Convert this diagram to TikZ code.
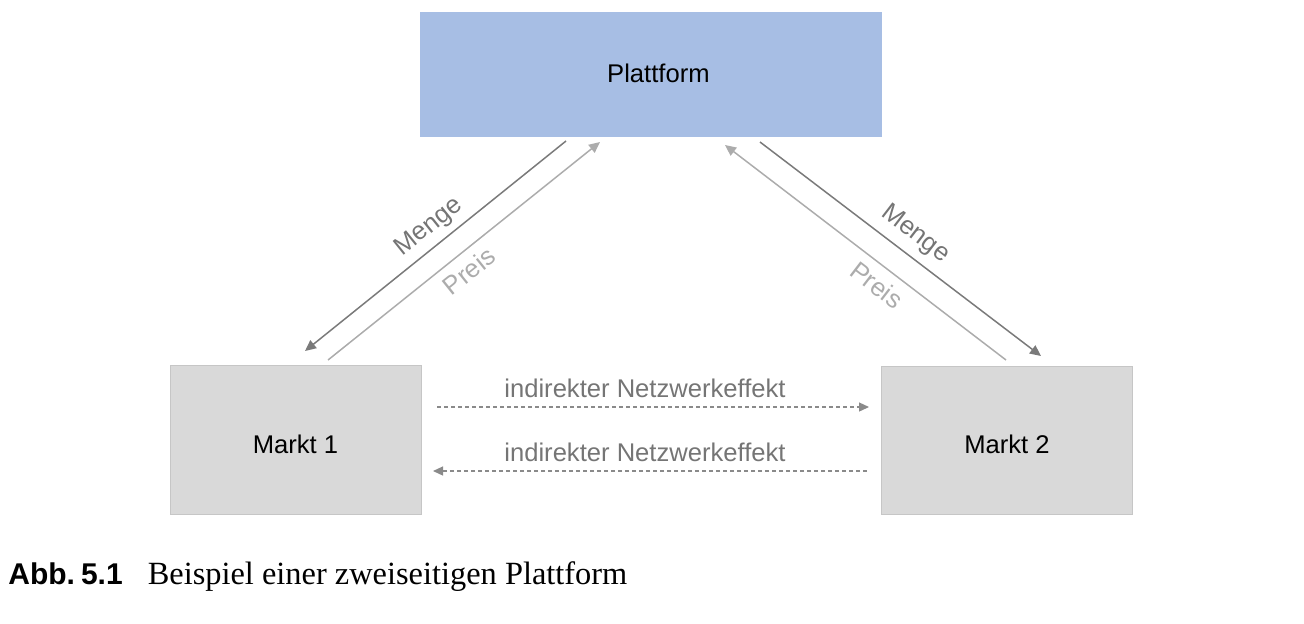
\documentclass[tikz,border=0pt]{standalone}
\usepackage{fontspec}
\setmainfont{Liberation Serif}
\setsansfont{Liberation Sans}
\usetikzlibrary{arrows.meta,calc}
\definecolor{platblue}{HTML}{A7BEE4}
\definecolor{boxgray}{HTML}{D9D9D9}
\definecolor{boxline}{HTML}{C6C6C6}
\definecolor{darkarrow}{HTML}{7A7A7A}
\definecolor{lightarrow}{HTML}{ACACAC}
\definecolor{dashgray}{HTML}{8A8A8A}
\definecolor{labgray}{HTML}{757575}
\tikzset{
  boxnode/.style={inner sep=0pt, font=\sffamily\fontsize{12.8}{14}\selectfont},
  mengearrow/.style={draw=darkarrow, line width=0.75pt, -{Triangle[length=5.5pt,width=5pt]}},
  preisarrow/.style={draw=lightarrow, line width=0.75pt, -{Triangle[length=5.5pt,width=5pt]}},
  effarrow/.style={draw=dashgray, line width=0.6pt, dash pattern=on 2pt off 1.5pt, -{Triangle[length=5pt,width=4.5pt]}},
  mengelab/.style={text=labgray, font=\sffamily\fontsize{12.8}{14}\selectfont, inner sep=0pt},
  preislab/.style={text=lightarrow, font=\sffamily\fontsize{12.8}{14}\selectfont, inner sep=0pt},
  efflab/.style={text=labgray, font=\sffamily\fontsize{12.8}{14}\selectfont, inner sep=0pt},
}
\begin{document}
\begin{tikzpicture}[x=0.5pt,y=-0.5pt]
\useasboundingbox (0,0) rectangle (1304,623);
% boxes
\node[boxnode, fill=platblue, minimum width=231pt, minimum height=62.5pt, anchor=north west] (P) at (420,12) {\hspace*{7pt}\raisebox{1pt}[\height][\depth]{Plattform}};
\node[boxnode, fill=boxgray, draw=boxline, line width=0.5pt, minimum width=125.5pt, minimum height=74.5pt, anchor=north west] (M1) at (169.5,365) {\raisebox{-2pt}[\height][\depth]{Markt 1}};
\node[boxnode, fill=boxgray, draw=boxline, line width=0.5pt, minimum width=125.5pt, minimum height=74pt, anchor=north west] (M2) at (881,366) {\raisebox{-2pt}[\height][\depth]{Markt 2}};
% arrow end coordinates
\coordinate (mlA) at (566,141);
\coordinate (mlB) at (305,351);
\coordinate (plA) at (328,360);
\coordinate (plB) at (600,142);
\coordinate (prA) at (1006,360);
\coordinate (prB) at (725,145);
\coordinate (mrA) at (760,142);
\coordinate (mrB) at (1041,356);
\coordinate (e1A) at (437,407);
\coordinate (e1B) at (869,407);
\coordinate (e2A) at (867,471);
\coordinate (e2B) at (433,471);
% arrows
\draw[mengearrow] (mlA) -- (mlB);
\draw[preisarrow] (plA) -- (plB);
\draw[preisarrow] (prA) -- (prB);
\draw[mengearrow] (mrA) -- (mrB);
\draw[effarrow] (e1A) -- (e1B);
\draw[effarrow] (e2A) -- (e2B);
% labels
\node[mengelab, rotate=38.7] (lm1) at (429,227) {Menge};
\node[preislab, rotate=38.7] (lp1) at (469,271) {Preis};
\node[mengelab, rotate=-37.5] (lm2) at (915,234) {Menge};
\node[preislab, rotate=-37.5] (lp2) at (877,285) {Preis};
\node[efflab] (le1) at (645,388) {indirekter Netzwerkeffekt};
\node[efflab] (le2) at (645,452) {indirekter Netzwerkeffekt};
% caption
\node[anchor=base west, inner sep=0pt, font=\fontsize{16.2}{18}\selectfont] (cap) at (8,584) {{\sffamily\bfseries\fontsize{15}{18}\selectfont Abb.\hspace{3pt}5.1}\hspace{12.5pt}Beispiel einer zweiseitigen Plattform};
\end{tikzpicture}
\end{document}
